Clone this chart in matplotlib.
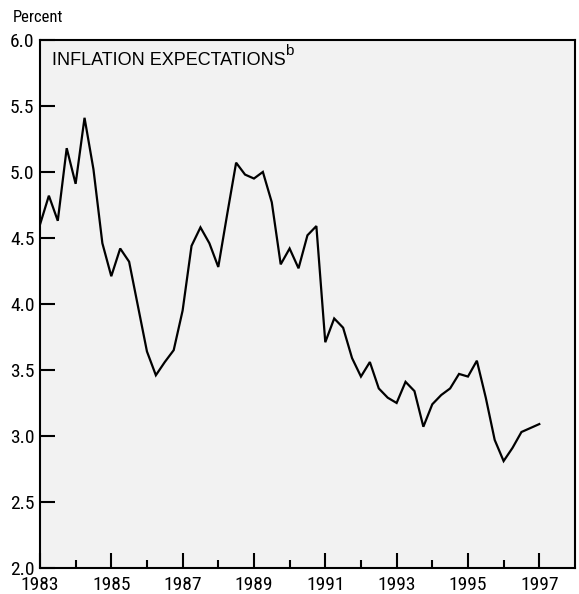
import numpy as np
import matplotlib.pyplot as plt
from matplotlib.ticker import FixedLocator

# quarterly observations, 1983:Q1 - 1997:Q1
start_year = 1983
inflation_exp = [4.60, 4.82, 4.63, 5.18, 4.91, 5.41, 5.02, 4.46, 4.21, 4.42,
                 4.32, 3.98, 3.64, 3.46, 3.56, 3.65, 3.95, 4.44, 4.58, 4.46,
                 4.28, 4.68, 5.07, 4.98, 4.95, 5.00, 4.77, 4.30, 4.42, 4.27,
                 4.52, 4.59, 3.71, 3.89, 3.82, 3.59, 3.45, 3.56, 3.36, 3.29,
                 3.25, 3.41, 3.34, 3.07, 3.24, 3.31, 3.36, 3.47, 3.45, 3.57,
                 3.29, 2.97, 2.81, 2.91, 3.03, 3.06, 3.09]
major_years = [1983, 1985, 1987, 1989, 1991, 1993, 1995, 1997]
minor_years = [1984, 1986, 1988, 1990, 1992, 1994, 1996]
y_ticks = [2.0, 2.5, 3.0, 3.5, 4.0, 4.5, 5.0, 5.5, 6.0]

years = start_year + np.arange(len(inflation_exp)) / 4.0

narrow = ['Liberation Sans Narrow', 'DejaVu Sans Condensed', 'Roboto Condensed',
          'Liberation Sans', 'DejaVu Sans']

fig = plt.figure(figsize=(5.79, 5.94), dpi=100)
ax = fig.add_axes([0.069, 0.0438, 0.924, 0.889])
ax.set_facecolor('#f2f2f2')

ax.plot(years, inflation_exp, color='black', lw=1.6, solid_joinstyle='miter')

ax.set_xlim(1983, 1998)
ax.set_ylim(2.0, 6.0)
ax.xaxis.set_major_locator(FixedLocator(major_years))
ax.xaxis.set_minor_locator(FixedLocator(minor_years))
ax.yaxis.set_major_locator(FixedLocator(y_ticks))
ax.set_xticklabels([str(y) for y in major_years])
ax.set_yticklabels(['%.1f' % v for v in y_ticks])

ax.tick_params(axis='y', direction='in', length=11, width=1.5, pad=4,
               labelsize=14)
ax.tick_params(axis='x', which='major', direction='in', length=11, width=1.5,
               pad=6, labelsize=14)
ax.tick_params(axis='x', which='minor', direction='in', length=5.5, width=1.5)
for lab in ax.get_xticklabels() + ax.get_yticklabels():
    lab.set_family(narrow)

for s in ax.spines.values():
    s.set_linewidth(1.5)

fig.text(0.022, 0.97, 'Percent', family=narrow, fontsize=12,
         ha='left', va='center')
ax.text(0.022, 0.978, 'INFLATION EXPECTATIONS', transform=ax.transAxes,
        family=['Liberation Sans', 'DejaVu Sans'], fontsize=13,
        ha='left', va='top')
ax.text(0.459, 0.993, 'b', transform=ax.transAxes,
        family=['Liberation Sans', 'DejaVu Sans'], fontsize=11,
        ha='left', va='top')

fig.savefig('out.png', dpi=100)
